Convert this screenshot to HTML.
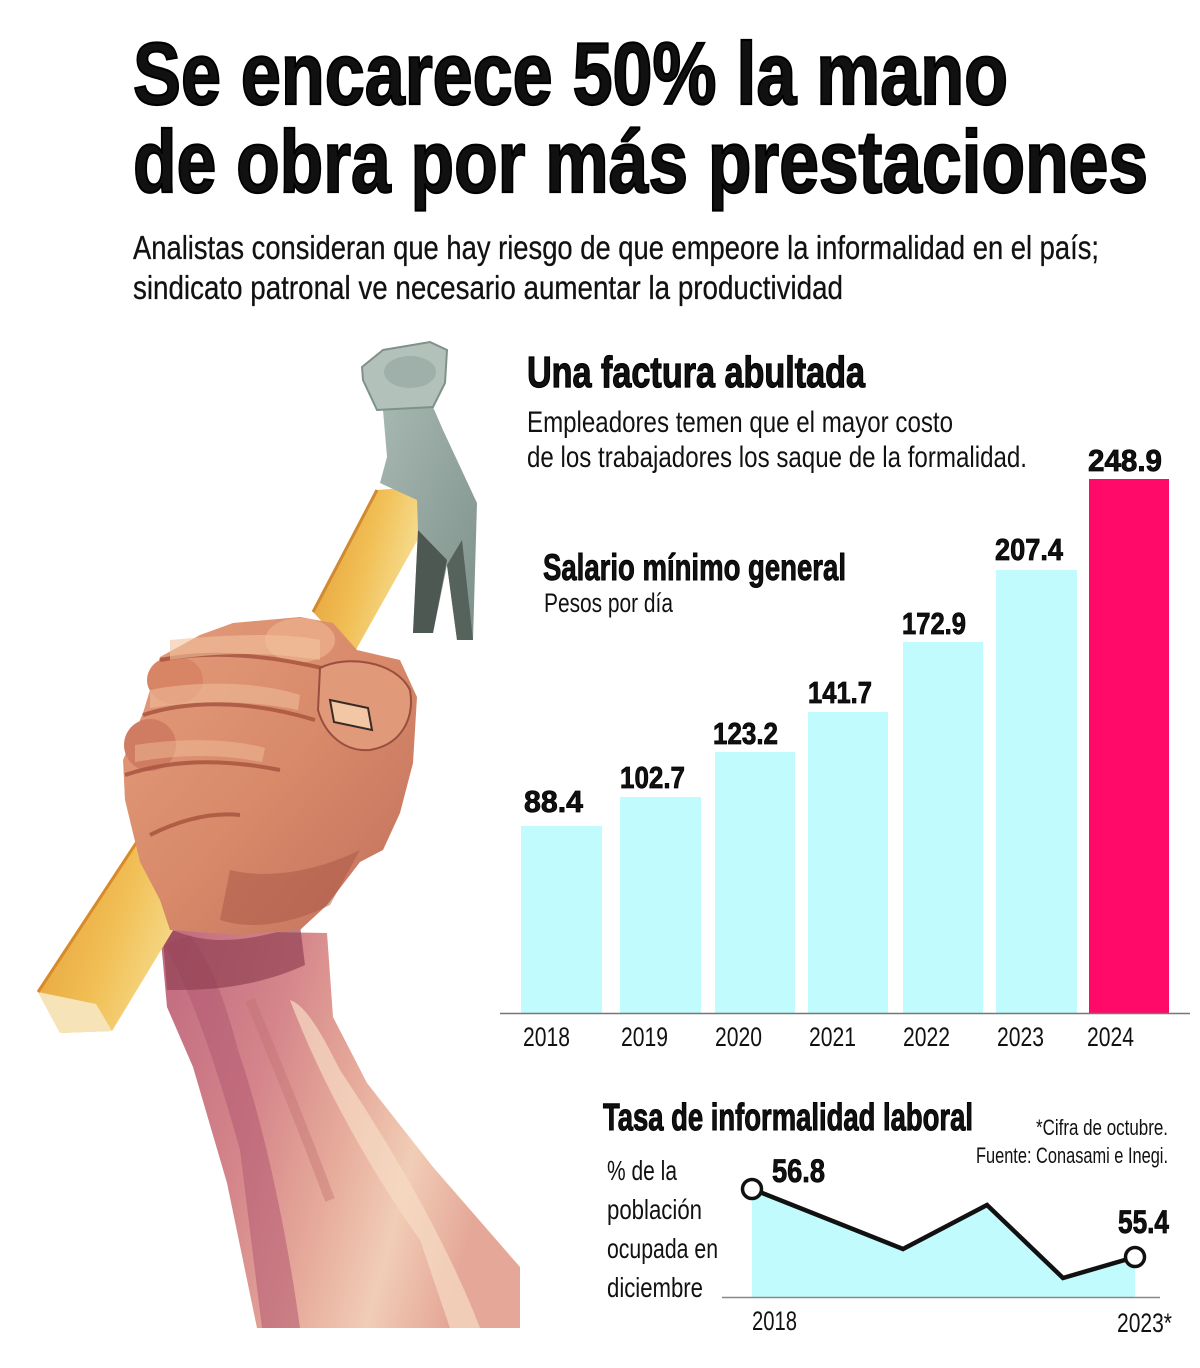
<!DOCTYPE html>
<html>
<head>
<meta charset="utf-8">
<style>
html,body{margin:0;padding:0;background:#fff;}
svg{display:block;}
text{font-family:"Liberation Sans Narrow","Liberation Sans",sans-serif;fill:#111;}
.b{font-weight:bold;}
</style>
</head>
<body>
<svg width="1200" height="1368" viewBox="0 0 1200 1368" xmlns="http://www.w3.org/2000/svg">
<defs>
  <linearGradient id="armG" x1="0" y1="0" x2="1" y2="0.3">
    <stop offset="0" stop-color="#c06a80"/>
    <stop offset="0.35" stop-color="#d4848a"/>
    <stop offset="0.6" stop-color="#e6aa9a"/>
    <stop offset="0.8" stop-color="#f1cdb6"/>
    <stop offset="1" stop-color="#e5a898"/>
  </linearGradient>
  <linearGradient id="fistG" x1="0" y1="0" x2="1" y2="1">
    <stop offset="0" stop-color="#e49d7c"/>
    <stop offset="0.5" stop-color="#d88a6a"/>
    <stop offset="1" stop-color="#c2705c"/>
  </linearGradient>
  <linearGradient id="handleG" x1="0" y1="0" x2="1" y2="0.4">
    <stop offset="0" stop-color="#e39a35"/>
    <stop offset="0.55" stop-color="#f1bf55"/>
    <stop offset="1" stop-color="#f7e29a"/>
  </linearGradient>
  <linearGradient id="headG" x1="0" y1="0" x2="1" y2="1">
    <stop offset="0" stop-color="#a7b7b1"/>
    <stop offset="1" stop-color="#7d918a"/>
  </linearGradient>
</defs>

<!-- Title -->
<text class="b" x="133" y="104" font-size="88" fill="#000" stroke="#000" stroke-width="2.2" textLength="875" lengthAdjust="spacingAndGlyphs">Se encarece 50% la mano</text>
<text class="b" x="133" y="192" font-size="88" fill="#000" stroke="#000" stroke-width="2.2" textLength="1015" lengthAdjust="spacingAndGlyphs">de obra por más prestaciones</text>
<text x="133" y="259" font-size="33" fill="#1a1a1a" stroke="#1a1a1a" stroke-width="0.3" textLength="966" lengthAdjust="spacingAndGlyphs">Analistas consideran que hay riesgo de que empeore la informalidad en el país;</text>
<text x="133" y="299" font-size="33" fill="#1a1a1a" stroke="#1a1a1a" stroke-width="0.3" textLength="710" lengthAdjust="spacingAndGlyphs">sindicato patronal ve necesario aumentar la productividad</text>

<!-- Illustration: arm -->
<polygon points="160,930 167,1007 193,1067 227,1183 257,1328 520,1328 520,1267 433,1167 367,1083 333,1017 327,933" fill="url(#armG)"/>
<path d="M165,945 C190,990 215,1060 240,1150 L262,1328 L300,1328 C285,1220 262,1120 238,1050 C225,1000 210,960 190,935 Z" fill="#b25a72" opacity="0.55"/>
<path d="M162,925 C200,945 240,945 300,925 L305,965 C250,990 200,990 167,990 Z" fill="#8e3e50" opacity="0.65"/>
<path d="M290,1000 C320,1080 370,1170 420,1240 L450,1328 L480,1328 C450,1250 400,1160 340,1070 C320,1030 305,1005 290,1000 Z" fill="#f6dcc4" opacity="0.7"/>
<path d="M250,1000 C275,1060 300,1120 330,1200" stroke="#c07070" stroke-width="10" fill="none" opacity="0.4"/>

<!-- Handle lower -->
<polygon points="150,822 212,866 112,1031 60,1033 38,992" fill="url(#handleG)"/>
<polygon points="38,992 60,1033 112,1031 96,1004" fill="#f6e4b8"/>
<line x1="150" y1="822" x2="38" y2="992" stroke="#d88a2a" stroke-width="3"/>

<!-- Handle upper -->
<polygon points="377,490 417,487 426,525 353,655 313,612" fill="url(#handleG)"/>
<line x1="377" y1="490" x2="313" y2="612" stroke="#d08a30" stroke-width="3"/>

<!-- Fist -->
<polygon points="233,623 300,617 333,623 357,650 400,660 417,697 413,763 400,813 383,850 360,862 327,905 300,930 240,935 170,930 160,900 140,862 125,800 123,760 143,713 160,657 200,635" fill="url(#fistG)"/>
<!-- knuckles -->
<ellipse cx="300" cy="640" rx="35" ry="22" fill="#e8a886"/>
<ellipse cx="175" cy="680" rx="28" ry="24" fill="#d88566"/>
<ellipse cx="150" cy="745" rx="26" ry="26" fill="#d07c62"/>
<!-- finger creases -->
<path d="M160,660 C210,650 270,655 330,670" stroke="#a8553f" stroke-width="4" fill="none" opacity="0.85"/>
<path d="M143,715 C190,700 250,700 315,720" stroke="#a8553f" stroke-width="4" fill="none" opacity="0.85"/>
<path d="M125,775 C170,760 220,758 280,770" stroke="#a8553f" stroke-width="4" fill="none" opacity="0.85"/>
<path d="M150,835 C180,820 210,812 240,815" stroke="#a8553f" stroke-width="4" fill="none" opacity="0.85"/>
<path d="M170,640 C220,635 280,632 320,640 L320,660 C270,652 220,652 170,660 Z" fill="#f1c3a0" opacity="0.6"/>
<path d="M150,690 C200,680 260,682 300,695 L298,710 C250,700 200,700 150,708 Z" fill="#f1c3a0" opacity="0.5"/>
<path d="M135,745 C180,738 230,738 265,748 L262,762 C220,754 180,754 135,762 Z" fill="#f1c3a0" opacity="0.45"/>
<!-- thumb -->
<path d="M320,668 C345,655 395,660 410,690 C415,720 400,745 370,750 C345,752 325,735 318,710 Z" fill="#e09a79" stroke="#9a4e3e" stroke-width="2"/>
<path d="M330,700 L368,708 L372,730 L334,722 Z" fill="#f2c7a5" stroke="#3a2a25" stroke-width="2"/>
<path d="M230,870 C270,880 320,870 360,850 L330,905 C290,925 250,930 220,920 Z" fill="#a85545" opacity="0.5"/>

<!-- Hammer head -->
<polygon points="383,410 433,407 443,430 477,503 473,640 457,640 447,565 433,633 413,633 418,530 417,500 380,483 387,457" fill="url(#headG)"/>
<polygon points="418,530 447,560 433,633 413,633" fill="#4d5853"/>
<polygon points="447,565 462,540 473,640 457,640" fill="#56625c"/>
<polygon points="362,367 383,350 430,342 447,350 445,383 433,407 377,410 363,380" fill="#b3c1bb" stroke="#7f918a" stroke-width="2"/>
<ellipse cx="410" cy="372" rx="26" ry="16" fill="#95a8a1" opacity="0.7"/>

<!-- Right header -->
<text class="b" x="527" y="387" font-size="44" fill="#000" stroke="#000" stroke-width="1.2" textLength="338" lengthAdjust="spacingAndGlyphs">Una factura abultada</text>
<text x="527" y="432" font-size="30" textLength="426" lengthAdjust="spacingAndGlyphs">Empleadores temen que el mayor costo</text>
<text x="527" y="467" font-size="30" textLength="500" lengthAdjust="spacingAndGlyphs">de los trabajadores los saque de la formalidad.</text>

<text class="b" x="543" y="580" font-size="37" fill="#000" stroke="#000" stroke-width="0.9" textLength="303" lengthAdjust="spacingAndGlyphs">Salario mínimo general</text>
<text x="544" y="612" font-size="27" textLength="129" lengthAdjust="spacingAndGlyphs">Pesos por día</text>

<!-- Bars -->
<rect x="521" y="826" width="81" height="187" fill="#c2fbfd"/>
<rect x="620" y="797" width="81" height="216" fill="#c2fbfd"/>
<rect x="715" y="752" width="80" height="261" fill="#c2fbfd"/>
<rect x="808" y="712" width="80" height="301" fill="#c2fbfd"/>
<rect x="903" y="642" width="80" height="371" fill="#c2fbfd"/>
<rect x="996" y="570" width="81" height="443" fill="#c2fbfd"/>
<rect x="1089" y="479" width="80" height="534" fill="#ff0a68"/>
<line x1="500" y1="1013.5" x2="1190" y2="1013.5" stroke="#777" stroke-width="1.5"/>

<g fill="#000" stroke="#000" stroke-width="0.8">
<text class="b" x="524" y="812" font-size="31" textLength="59" lengthAdjust="spacingAndGlyphs">88.4</text>
<text class="b" x="620" y="788" font-size="31" textLength="65" lengthAdjust="spacingAndGlyphs">102.7</text>
<text class="b" x="713" y="744" font-size="31" textLength="65" lengthAdjust="spacingAndGlyphs">123.2</text>
<text class="b" x="808" y="703" font-size="31" textLength="64" lengthAdjust="spacingAndGlyphs">141.7</text>
<text class="b" x="902" y="634" font-size="31" textLength="64" lengthAdjust="spacingAndGlyphs">172.9</text>
<text class="b" x="995" y="560" font-size="31" textLength="68" lengthAdjust="spacingAndGlyphs">207.4</text>
<text class="b" x="1088" y="471" font-size="31" textLength="74" lengthAdjust="spacingAndGlyphs">248.9</text>
</g>

<text x="523" y="1046" font-size="27" fill="#222" textLength="47" lengthAdjust="spacingAndGlyphs">2018</text>
<text x="621" y="1046" font-size="27" fill="#222" textLength="47" lengthAdjust="spacingAndGlyphs">2019</text>
<text x="715" y="1046" font-size="27" fill="#222" textLength="47" lengthAdjust="spacingAndGlyphs">2020</text>
<text x="809" y="1046" font-size="27" fill="#222" textLength="47" lengthAdjust="spacingAndGlyphs">2021</text>
<text x="903" y="1046" font-size="27" fill="#222" textLength="47" lengthAdjust="spacingAndGlyphs">2022</text>
<text x="997" y="1046" font-size="27" fill="#222" textLength="47" lengthAdjust="spacingAndGlyphs">2023</text>
<text x="1087" y="1046" font-size="27" fill="#222" textLength="47" lengthAdjust="spacingAndGlyphs">2024</text>

<!-- Line chart -->
<text class="b" x="603" y="1130" font-size="38" fill="#000" stroke="#000" stroke-width="1" textLength="370" lengthAdjust="spacingAndGlyphs">Tasa de informalidad laboral</text>
<text x="1036" y="1135" font-size="22" textLength="132" lengthAdjust="spacingAndGlyphs">*Cifra de octubre.</text>
<text x="976" y="1163" font-size="22" textLength="192" lengthAdjust="spacingAndGlyphs">Fuente: Conasami e Inegi.</text>

<text x="607" y="1180" font-size="28" textLength="70" lengthAdjust="spacingAndGlyphs">% de la</text>
<text x="607" y="1219" font-size="28" textLength="95" lengthAdjust="spacingAndGlyphs">población</text>
<text x="607" y="1258" font-size="28" textLength="111" lengthAdjust="spacingAndGlyphs">ocupada en</text>
<text x="607" y="1297" font-size="28" textLength="96" lengthAdjust="spacingAndGlyphs">diciembre</text>

<polygon points="752,1189 903,1249 987,1205 1063,1278 1135,1257 1135,1297 752,1297" fill="#c2fbfd"/>
<line x1="722" y1="1297.5" x2="1160" y2="1297.5" stroke="#888" stroke-width="1.5"/>
<polyline points="752,1189 903,1249 987,1205 1063,1278 1135,1257" fill="none" stroke="#111" stroke-width="4.5" stroke-linejoin="miter"/>
<circle cx="752" cy="1189" r="9.5" fill="#fff" stroke="#111" stroke-width="3.5"/>
<circle cx="1135" cy="1257" r="9.5" fill="#fff" stroke="#111" stroke-width="3.5"/>

<text class="b" x="772" y="1182" font-size="32" fill="#000" stroke="#000" stroke-width="0.8" textLength="53" lengthAdjust="spacingAndGlyphs">56.8</text>
<text class="b" x="1118" y="1233" font-size="32" fill="#000" stroke="#000" stroke-width="0.8" textLength="51" lengthAdjust="spacingAndGlyphs">55.4</text>
<text x="752" y="1330" font-size="27" fill="#222" textLength="45" lengthAdjust="spacingAndGlyphs">2018</text>
<text x="1117" y="1332" font-size="27" fill="#222" textLength="55" lengthAdjust="spacingAndGlyphs">2023*</text>
</svg>
</body>
</html>
